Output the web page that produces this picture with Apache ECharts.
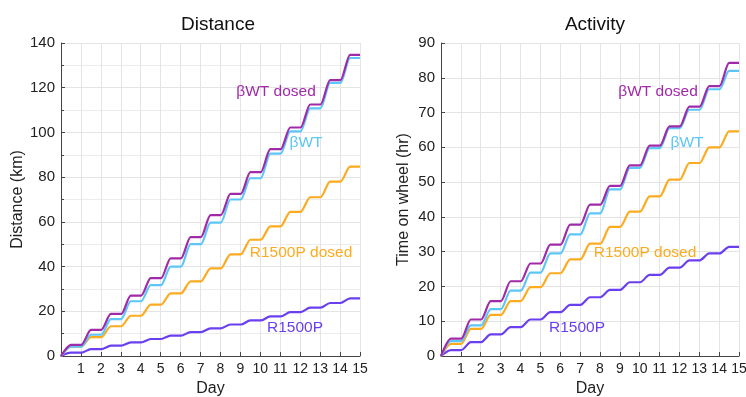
<!DOCTYPE html>
<html>
<head>
<meta charset="utf-8">
<script src="https://cdn.jsdelivr.net/npm/echarts@6/dist/echarts.min.js"></script>
<style>
  html, body { margin: 0; padding: 0; background: #fff; }
  #main { width: 746px; height: 397px; }
</style>
</head>
<body>
<div id="main"></div>
<script>
// end-of-day plateau levels (day 0..14)
const distDosedWT = [5, 11.7, 18.8, 27, 34.8, 43.7, 53.2, 63, 72.5, 82.2, 92.5, 102.2, 112.5, 123.4, 134.7]
const distWT = [4.2, 9.5, 16.5, 24.5, 31.7, 40, 50, 59.7, 70, 79.5, 90.5, 100.5, 110.8, 122.2, 133.3]
const distDosedR = [4.2, 8.4, 13.3, 18, 23, 28, 33.4, 39.2, 45.5, 52, 58, 64.5, 71, 78, 84.7]
const distR = [1.5, 3.1, 4.6, 6.1, 7.6, 9.1, 10.7, 12.4, 14.1, 15.9, 17.7, 19.6, 21.6, 23.7, 25.8]

const actDosedWT = [5, 10.5, 15.8, 21.5, 26.6, 32, 37.8, 43.5, 48.9, 54.8, 60.5, 66, 71.7, 77.6, 84.3]
const actWT = [4.3, 8.8, 13.5, 18.8, 24, 29.5, 35, 41, 47.9, 54.1, 59.8, 65.5, 70.8, 76.7, 82]
const actDosedR = [3.5, 7.8, 11.8, 15.8, 19.8, 23.8, 27.8, 32.3, 37.1, 41.5, 45.9, 50.7, 55.5, 60, 64.6]
const actR = [1.7, 4, 6.2, 8.3, 10.5, 12.6, 14.7, 16.9, 19, 21.2, 23.3, 25.4, 27.5, 29.5, 31.4]

const seriesNames = ['R1500P', 'R1500P dosed', 'βWT', 'βWT dosed']
const colors = ['#6a3ff0', '#fdab1e', '#5cc6f7', '#a02aa8']

// each day: running during the dark phase, then flat
const toSteps = (levels) => {
  const pts = [[0, 0]]
  let prev = 0
  levels.forEach((v, d) => {
    pts.push([d + 0.02, prev])
    pts.push([d + 0.5, v])
    prev = v
  })
  pts.push([15, prev])
  return pts
}

const chart = echarts.init(document.getElementById('main'))

const font = 'Liberation Sans, Arial, sans-serif'
const axisColor = '#444'

const xAxisCfg = (gridIndex) => ({
  type: 'value',
  gridIndex,
  min: 0,
  max: 15,
  interval: 1,
  name: 'Day',
  nameLocation: 'middle',
  nameGap: 21,
  nameTextStyle: { fontSize: 16, color: '#222', fontFamily: font },
  axisLine: { lineStyle: { color: axisColor, width: 1 } },
  axisTick: { inside: true, length: 4, lineStyle: { color: axisColor } },
  axisLabel: {
    fontSize: 14, color: '#222', fontFamily: font, margin: 6,
    formatter: (v) => (v === 0 ? '' : v)
  },
  splitLine: { show: true, lineStyle: { color: '#e4e4e4' } }
})

const yAxisCfg = (gridIndex, max, interval, name, minor, gap) => ({
  type: 'value',
  gridIndex,
  min: 0,
  max,
  interval,
  name,
  nameLocation: 'middle',
  nameGap: gap,
  nameTextStyle: { fontSize: 16, color: '#222', fontFamily: font },
  axisLine: { show: true, lineStyle: { color: axisColor, width: 1 } },
  axisTick: { inside: true, length: 4, lineStyle: { color: axisColor } },
  minorTick: { show: minor, splitNumber: 2, length: 3, lineStyle: { color: axisColor } },
  minorSplitLine: { show: minor, lineStyle: { color: '#ececec' } },
  axisLabel: { fontSize: 15, color: '#222', fontFamily: font, margin: 6 },
  splitLine: { show: true, lineStyle: { color: '#e4e4e4' } }
})

const makeSeries = (data, i, axisIdx) => ({
  name: seriesNames[i],
  type: 'line',
  xAxisIndex: axisIdx,
  yAxisIndex: axisIdx,
  data: toSteps(data),
  showSymbol: false,
  smooth: 0.3,
  smoothMonotone: 'x',
  lineStyle: { width: 2.2, color: colors[i] },
  z: 2 + i,
  silent: true
})

const label = (text, x, y, i) => ({
  type: 'text',
  x,
  y,
  style: {
    text,
    fill: colors[i],
    font: '15.5px ' + font,
    textAlign: 'center',
    textVerticalAlign: 'middle'
  },
  z: 100
})

const option = {
  animation: false,
  backgroundColor: '#fff',
  title: [
    { text: 'Distance', left: 213, top: 10, textAlign: 'center',
      textStyle: { fontSize: 19, fontWeight: 'normal', color: '#111', fontFamily: font } },
    { text: 'Activity', left: 590, top: 10, textAlign: 'center',
      textStyle: { fontSize: 19, fontWeight: 'normal', color: '#111', fontFamily: font } }
  ],
  grid: [
    { left: 61, right: 386, top: 43, bottom: 41, outerBoundsMode: 'none' },
    { left: 441, right: 7, top: 43, bottom: 41, outerBoundsMode: 'none' }
  ],
  xAxis: [xAxisCfg(0), xAxisCfg(1)],
  yAxis: [
    yAxisCfg(0, 140, 20, 'Distance (km)', true, 23),
    yAxisCfg(1, 90, 10, 'Time on wheel (hr)', false, 29)
  ],
  series: [
    makeSeries(distR, 0, 0),
    makeSeries(distDosedR, 1, 0),
    makeSeries(distWT, 2, 0),
    makeSeries(distDosedWT, 3, 0),
    makeSeries(actR, 0, 1),
    makeSeries(actDosedR, 1, 1),
    makeSeries(actWT, 2, 1),
    makeSeries(actDosedWT, 3, 1)
  ],
  graphic: [
    label('βWT dosed', 276, 92, 3),
    label('βWT', 306, 143, 2),
    label('R1500P dosed', 301, 253, 1),
    label('R1500P', 295, 328, 0),
    label('βWT dosed', 658, 92, 3),
    label('βWT', 687, 143, 2),
    label('R1500P dosed', 645, 253, 1),
    label('R1500P', 577, 328, 0)
  ]
}

chart.setOption(option)
</script>
</body>
</html>
